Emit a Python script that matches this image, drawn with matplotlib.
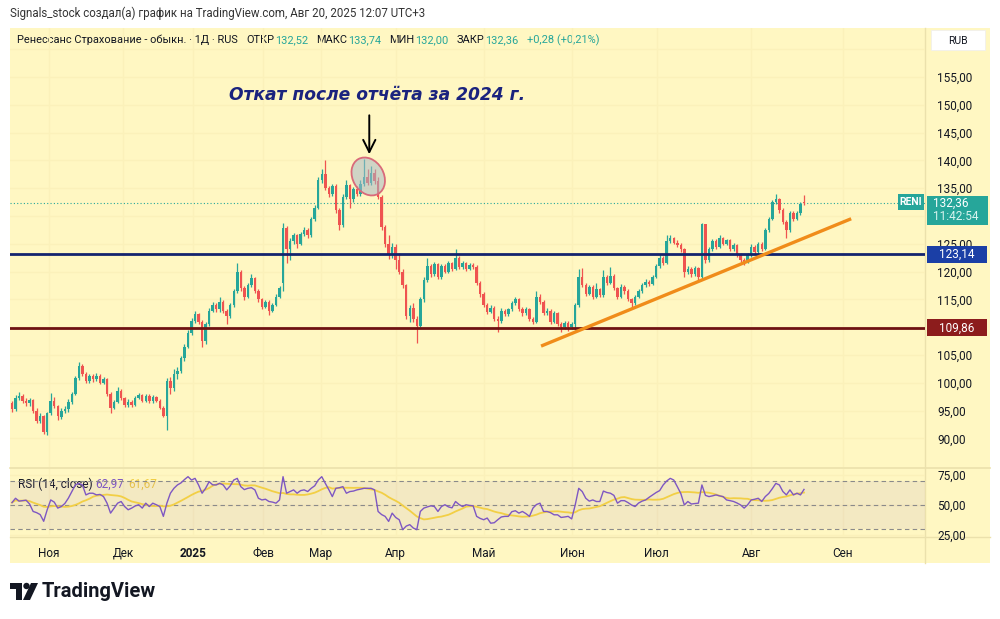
import matplotlib
matplotlib.use('Agg')
import matplotlib.pyplot as plt
from matplotlib.patches import Rectangle, Ellipse, Polygon, Circle
from matplotlib.ticker import FuncFormatter
import matplotlib.transforms as mtransforms
import numpy as np
import pandas as pd

plt.rcParams['font.family'] = ['Roboto', 'DejaVu Sans']

# ---------------- data ----------------
opens = [96.3, 95.2, 97.2, 97.6, 96.8, 96.3, 96.9, 95.0, 93.2, 94.0,
         91.2, 94.5, 96.8, 95.8, 93.8, 95.0, 95.3, 96.5, 98.0, 100.8,
         103.0, 101.5, 100.3, 101.2, 100.6, 101.3, 100.0, 100.7, 98.0, 95.5,
         96.5, 98.5, 97.2, 96.0, 96.5, 96.0, 97.3, 97.8, 96.8, 97.6,
         96.7, 97.5, 96.8, 95.5, 94.0, 100.3, 99.0, 101.5, 102.2, 104.5,
         106.5, 109.0, 111.2, 112.3, 111.0, 107.5, 110.5, 113.0, 114.0, 113.2,
         114.5, 113.0, 112.0, 114.0, 116.5, 120.0, 117.0, 115.5, 117.5, 118.8,
         116.5, 115.0, 113.7, 114.5, 113.0, 114.0, 115.5, 118.0, 127.8, 124.0,
         125.5, 126.5, 125.0, 126.8, 127.5, 126.5, 129.5, 131.5, 136.5, 137.5,
         135.0, 134.0, 135.3, 131.0, 128.3, 133.5, 135.5, 133.0, 134.8, 134.0,
         135.8, 137.0, 136.0, 137.8, 136.2, 133.5, 128.0, 125.0, 123.0, 124.5,
         122.0, 120.0, 117.5, 112.0, 113.5, 111.5, 110.3, 115.0, 118.5, 121.0,
         119.5, 121.3, 119.0, 121.0, 120.0, 121.5, 120.5, 122.5, 120.8, 121.5,
         120.5, 121.2, 120.8, 118.0, 116.0, 114.0, 112.8, 113.5, 111.5, 111.2,
         113.0, 112.3, 113.2, 114.3, 115.0, 113.3, 112.5, 113.2, 111.5, 111.0,
         115.5, 114.5, 112.5, 113.0, 111.0, 112.5, 110.5, 110.0, 110.8, 110.0,
         110.6, 114.0, 119.0, 117.5, 116.0, 117.2, 115.5, 116.8, 115.8, 119.0,
         118.0, 119.2, 117.0, 115.5, 117.3, 116.5, 115.0, 114.3, 115.5, 116.5,
         117.5, 118.2, 117.8, 119.0, 121.0, 122.5, 121.5, 125.5, 126.0, 125.2,
         124.8, 124.0, 120.0, 120.5, 119.5, 120.6, 119.0, 128.5, 122.0, 124.0,
         125.5, 124.5, 126.0, 125.0, 125.6, 124.0, 124.8, 123.0, 122.0, 121.8,
         123.0, 124.5, 123.5, 125.0, 124.0, 127.5, 129.5, 132.5, 133.0, 131.0,
         129.0, 127.5, 130.5, 129.5, 130.5, 132.52]
closes = [95.2, 97.2, 97.6, 96.8, 96.3, 96.9, 95.0, 93.2, 94.0, 91.2,
          94.5, 96.8, 95.8, 94.0, 95.0, 95.3, 96.5, 98.0, 100.8, 103.0,
          101.5, 100.3, 101.2, 100.6, 101.3, 100.0, 100.7, 98.0, 95.5, 96.5,
          98.5, 97.2, 96.0, 96.5, 96.0, 97.3, 97.8, 96.8, 97.6, 96.7,
          97.5, 96.8, 95.5, 94.0, 100.3, 99.0, 101.5, 102.2, 104.5, 106.5,
          109.0, 111.2, 112.3, 111.0, 107.5, 110.5, 113.0, 114.0, 113.2, 114.5,
          113.0, 112.0, 114.0, 116.5, 120.0, 117.0, 115.5, 117.5, 118.8, 116.5,
          115.0, 113.7, 114.5, 113.0, 114.0, 115.5, 117.0, 127.8, 124.0, 125.5,
          126.5, 125.0, 126.8, 127.5, 126.5, 129.5, 131.5, 136.5, 137.5, 135.0,
          134.0, 135.3, 131.0, 128.3, 133.5, 135.5, 133.0, 134.8, 134.0, 135.8,
          137.0, 136.0, 137.8, 136.2, 133.5, 128.0, 125.0, 123.0, 124.5, 122.0,
          120.0, 117.5, 112.0, 113.5, 111.5, 110.3, 115.0, 118.5, 121.0, 119.5,
          121.3, 119.0, 121.0, 120.0, 121.5, 120.5, 122.5, 120.8, 121.5, 120.5,
          121.2, 120.8, 118.0, 116.0, 114.0, 112.8, 113.5, 111.5, 111.2, 113.0,
          112.3, 113.2, 114.3, 115.0, 113.3, 112.5, 113.2, 111.5, 111.0, 115.5,
          114.5, 112.5, 113.0, 111.0, 112.5, 110.5, 110.0, 110.8, 110.0, 110.6,
          114.0, 119.0, 117.5, 116.0, 117.2, 115.5, 116.8, 115.8, 119.0, 118.0,
          119.2, 117.0, 115.5, 117.3, 116.5, 115.0, 114.3, 115.5, 116.5, 117.5,
          118.2, 117.8, 119.0, 121.0, 122.5, 121.5, 125.5, 126.0, 125.2, 124.8,
          124.0, 120.0, 120.5, 119.5, 120.6, 119.0, 128.5, 122.0, 124.0, 125.5,
          124.5, 126.0, 125.0, 125.6, 124.0, 124.8, 123.0, 122.0, 121.8, 123.0,
          124.5, 123.5, 125.0, 124.0, 127.5, 129.5, 132.5, 133.0, 131.0, 129.0,
          127.5, 130.5, 129.5, 130.5, 132.08, 132.36]
highs = [96.8, 97.8, 98.3, 97.9, 97.2, 97.3, 97.1, 95.4, 94.6, 94.3,
         94.8, 98.2, 97.4, 96.0, 95.4, 95.8, 97.0, 98.4, 101.2, 103.7,
         103.4, 101.9, 101.6, 101.6, 101.8, 101.6, 101.0, 100.9, 98.3, 96.9,
         99.3, 98.8, 97.5, 97.0, 96.9, 97.6, 98.2, 98.0, 97.9, 97.9,
         97.8, 97.7, 97.0, 95.8, 100.8, 101.0, 102.5, 102.8, 104.9, 107.0,
         109.5, 111.6, 113.0, 112.6, 111.3, 110.9, 113.4, 114.5, 114.3, 115.5,
         114.8, 113.3, 114.3, 116.9, 121.5, 120.3, 117.4, 117.9, 119.5, 119.0,
         116.8, 115.3, 114.9, 114.8, 114.4, 115.9, 117.4, 128.7, 128.2, 126.0,
         126.9, 126.8, 127.2, 128.0, 127.8, 129.9, 132.0, 137.0, 138.5, 140.0,
         135.4, 135.8, 135.7, 131.4, 133.9, 136.5, 135.8, 135.2, 135.3, 136.5,
         140.2, 138.5, 139.0, 138.5, 137.0, 133.8, 128.4, 126.5, 125.2, 125.0,
         123.3, 120.4, 117.8, 114.0, 114.3, 112.0, 115.4, 119.0, 122.5, 121.4,
         121.7, 121.6, 121.4, 121.4, 121.9, 121.8, 124.0, 122.8, 121.9, 121.8,
         121.5, 121.5, 121.1, 118.3, 116.3, 114.4, 114.0, 113.8, 112.0, 113.4,
         113.3, 113.5, 114.7, 115.5, 115.3, 113.6, 113.6, 113.5, 111.9, 116.5,
         115.9, 114.8, 113.5, 113.3, 112.9, 112.8, 111.0, 111.2, 111.1, 110.9,
         114.4, 120.5, 120.6, 117.9, 117.6, 117.5, 118.0, 117.1, 120.2, 119.4,
         120.8, 119.5, 117.3, 117.7, 117.6, 116.8, 115.3, 115.8, 116.9, 117.9,
         118.6, 118.5, 119.3, 121.4, 122.9, 122.8, 126.5, 126.5, 126.3, 125.6,
         125.2, 124.3, 121.0, 120.9, 121.0, 120.9, 128.8, 128.6, 124.4, 125.9,
         125.8, 126.5, 126.3, 125.9, 125.9, 125.1, 125.0, 123.3, 122.4, 123.4,
         124.9, 124.8, 125.4, 125.3, 127.9, 129.9, 132.9, 134.0, 133.3, 131.4,
         129.3, 130.9, 130.9, 130.9, 132.5, 133.74]
lows = [94.7, 95.0, 96.9, 96.3, 95.8, 95.9, 94.6, 92.8, 92.7, 90.8,
        90.6, 94.2, 95.5, 93.3, 93.5, 94.6, 94.8, 96.2, 97.8, 100.5,
        101.2, 99.9, 100.0, 100.2, 100.3, 99.7, 99.8, 97.6, 94.6, 95.2,
        96.3, 96.9, 95.6, 95.7, 95.6, 95.8, 97.0, 96.5, 96.5, 96.3,
        96.4, 96.5, 95.2, 93.8, 91.5, 98.0, 98.5, 100.6, 101.8, 104.0,
        106.2, 108.6, 110.8, 110.5, 106.4, 107.0, 110.2, 112.7, 112.7, 112.8,
        112.6, 110.5, 111.7, 113.7, 116.2, 116.5, 114.9, 115.2, 117.2, 116.2,
        114.6, 113.3, 113.4, 112.2, 112.7, 113.8, 115.2, 116.5, 121.5, 122.0,
        125.0, 124.2, 124.7, 126.4, 126.0, 126.3, 129.1, 131.2, 136.0, 134.6,
        133.5, 133.6, 130.5, 127.5, 128.0, 133.1, 131.5, 132.6, 133.6, 133.6,
        135.3, 135.5, 135.6, 135.8, 133.1, 127.5, 124.5, 122.3, 122.5, 120.5,
        119.5, 117.0, 111.5, 111.0, 111.0, 107.2, 110.0, 114.6, 118.2, 119.0,
        119.2, 118.6, 118.7, 119.7, 119.8, 120.1, 120.2, 120.4, 120.5, 120.1,
        120.2, 120.4, 117.6, 115.5, 113.6, 112.4, 112.5, 111.1, 109.2, 110.8,
        112.0, 112.0, 112.9, 114.0, 113.0, 112.1, 112.2, 111.2, 110.5, 110.8,
        114.1, 112.2, 112.2, 110.6, 110.7, 110.2, 109.2, 109.7, 109.4, 109.6,
        109.5, 113.7, 117.2, 115.6, 115.7, 115.1, 115.2, 115.4, 115.5, 117.6,
        117.7, 116.7, 115.1, 115.2, 116.0, 114.7, 113.6, 114.0, 115.2, 116.2,
        117.2, 117.4, 117.5, 118.8, 120.7, 121.1, 121.3, 125.1, 124.9, 124.4,
        123.6, 119.0, 119.6, 119.1, 119.2, 118.5, 118.7, 121.6, 121.7, 123.7,
        124.1, 124.2, 124.7, 124.7, 123.7, 123.7, 122.7, 121.7, 121.2, 121.5,
        122.7, 123.2, 123.2, 123.7, 123.8, 127.1, 129.2, 132.1, 130.6, 128.5,
        126.0, 127.2, 129.1, 129.2, 130.2, 132.0]
rsi = [52.0, 55.6, 53.2, 53.6, 54.0, 50.8, 44.6, 43.6, 42.0, 36.4,
       46.0, 54.2, 52.4, 47.4, 48.7, 51.2, 55.6, 61.2, 66.7, 68.1,
       66.7, 58.4, 59.8, 59.8, 58.4, 58.8, 57.0, 51.5, 43.2, 47.4,
       51.5, 52.9, 48.7, 46.0, 47.4, 49.2, 50.2, 47.4, 51.5, 48.7,
       51.5, 50.2, 48.7, 40.5, 51.5, 59.8, 63.9, 66.7, 68.4, 71.2,
       73.6, 70.8, 72.2, 66.7, 59.8, 63.9, 69.4, 66.8, 66.7, 68.1,
       66.7, 62.6, 66.0, 70.8, 72.2, 65.3, 62.8, 63.9, 64.4, 62.6,
       55.6, 54.2, 54.8, 52.9, 52.4, 51.5, 54.2, 73.6, 59.8, 61.2,
       62.6, 59.8, 62.0, 62.6, 61.2, 63.9, 66.0, 70.8, 73.6, 68.1,
       62.8, 57.0, 63.9, 64.4, 65.3, 59.8, 61.2, 61.6, 62.6, 63.2,
       63.9, 63.9, 63.9, 62.6, 44.6, 42.0, 40.5, 36.3, 43.2, 39.6,
       37.7, 29.4, 32.4, 33.6, 30.8, 29.4, 44.6, 47.4, 48.4, 49.3,
       48.7, 44.6, 48.7, 50.2, 48.4, 47.6, 52.9, 50.4, 48.7, 50.2,
       49.6, 49.3, 40.5, 38.8, 37.7, 39.1, 34.8, 35.2, 37.7, 40.0,
       40.5, 40.5, 44.4, 45.2, 43.2, 44.6, 42.8, 40.5, 47.4, 50.4,
       51.5, 44.6, 44.6, 43.6, 41.8, 41.8, 39.6, 40.0, 40.5, 38.4,
       50.0, 63.9, 61.2, 55.6, 53.2, 54.2, 52.9, 52.9, 61.6, 60.4,
       59.8, 58.0, 51.5, 53.6, 53.6, 52.0, 50.0, 48.7, 51.6, 53.2,
       54.2, 56.4, 58.4, 60.4, 62.0, 66.7, 70.0, 72.2, 70.8, 65.3,
       59.6, 50.0, 52.9, 50.8, 51.2, 51.5, 66.7, 58.0, 57.0, 57.6,
       58.4, 57.6, 57.0, 54.2, 53.6, 52.9, 51.6, 50.0, 47.4, 50.2,
       54.2, 54.8, 55.6, 52.9, 57.0, 59.6, 63.6, 68.0, 66.7, 61.2,
       58.4, 62.6, 58.4, 59.8, 58.4, 62.97]

month_labels = ['Ноя', 'Дек', '2025', 'Фев', 'Мар', 'Апр', 'Май', 'Июн', 'Июл', 'Авг', 'Сен']
month_pos = [10.5, 31.5, 51.4, 71.3, 87.8, 109.0, 134.0, 159.1, 183.2, 210.0, 236.0]
price_ticks = [90, 95, 100, 105, 110, 115, 120, 125, 130, 135, 140, 145, 150, 155, 160]
hidden_price_labels = [110, 130, 160]
rsi_ticks = [25, 50, 75]
rsi_bands = [30, 50, 70]
resistance = 123.14
support = 109.86
last_price = 132.36
trend_x = [150.3, 238.4]
trend_y = [106.6, 129.5]
peak_bar, peak_price = 101.2, 137.1
arrow_from, arrow_to = 148.6, 140.6
note_bar, note_price = 103.8, 151.8

# header pieces: (text, colour key, gap in px before it)
header_parts = [('Ренессанс Страхование - обыкн. · 1Д · RUS', 'txt', 0),
                ('ОТКР', 'txt', 8), ('132,52', 'val', 0),
                ('МАКС', 'txt', 8), ('133,74', 'val', 0),
                ('МИН', 'txt', 8), ('132,00', 'val', 0),
                ('ЗАКР', 'txt', 8), ('132,36', 'val', 0),
                ('+0,28 (+0,21%)', 'val', 8)]

# ---------------- figure ----------------
W, H = 1000, 619
BG = '#fff7c2'
GRID = '#fbf1ba'
SEP = '#ebe1ac'
TXT = '#131722'
UP, DN = '#26a69a', '#ef5350'

fig = plt.figure(figsize=(10, 6.19), dpi=100)
fig.patch.set_facecolor('white')

bg = fig.add_axes([0, 0, 1, 1], zorder=0)
bg.set_xlim(0, W); bg.set_ylim(H, 0); bg.axis('off')
bg.add_patch(Rectangle((10, 28), 980, 535, color=BG, lw=0))


def fx(px):
    return px / W


def fy(py):
    return 1 - py / H


ax = fig.add_axes([fx(10), fy(467), fx(925) - fx(10), fy(28) - fy(467)], zorder=2)
rax = fig.add_axes([fx(10), fy(537), fx(925) - fx(10), fy(469) - fy(537)], zorder=2, sharex=ax)

n = min(len(opens), len(closes), len(highs), len(lows))
x = np.arange(n)
o = np.array(opens[:n]); c = np.array(closes[:n])
hi = np.array(highs[:n]); lo = np.array(lows[:n])
cols = [UP if cc >= oo else DN for oo, cc in zip(o, c)]

for a in (ax, rax):
    a.set_facecolor('none')
    for s in a.spines.values():
        s.set_visible(False)
    a.set_xticks(month_pos)
    a.grid(True, color=GRID, lw=1.0)
    a.set_axisbelow(True)

ax.set_xlim((10 - 12) / 3.52, (925 - 12) / 3.52)
ax.set_ylim(84.86, 163.8)

# candles
ax.vlines(x, lo, hi, colors=cols, lw=0.9, zorder=3)
body_h = np.maximum(np.abs(c - o), 0.12)
ax.bar(x, body_h, bottom=np.minimum(o, c), width=0.7, color=cols, lw=0, zorder=4)

# levels
ax.axhline(resistance, color='#13236e', lw=2.0, zorder=5)
ax.axhline(support, color='#6e1212', lw=2.0, zorder=5)
ax.axhline(last_price, color=UP, lw=0.8, ls=(0, (1, 2)), zorder=2)
ax.plot(trend_x, trend_y, color='#f08c1a', lw=2.4, solid_capstyle='butt', zorder=6)

# price axis labels
ax.yaxis.tick_right()
ax.set_yticks(price_ticks)
ax.yaxis.set_major_formatter(FuncFormatter(
    lambda v, p: '' if int(round(v)) in hidden_price_labels else f'{v:.2f}'.replace('.', ',')))
ax.tick_params(axis='y', length=0, pad=9, labelsize=8.5, labelcolor=TXT)
ax.tick_params(axis='x', length=0, labelbottom=False)

bt = mtransforms.blended_transform_factory(ax.transAxes, ax.transData)
pxu = 1 / 915.0
ppu = 1 / 5.56


def level_box(val, color, label):
    ax.add_patch(Rectangle((1 + 2 * pxu, val - 8.5 * ppu), 60 * pxu, 17 * ppu,
                           transform=bt, clip_on=False, color=color, lw=0, zorder=8))
    ax.text(1 + 32 * pxu, val, label, transform=bt, color='white', fontsize=8.5,
            ha='center', va='center', clip_on=False, zorder=9)


level_box(resistance, '#1b3fa6', f'{resistance:.2f}'.replace('.', ','))
level_box(support, '#8c1c1c', f'{support:.2f}'.replace('.', ','))

# last price box
ax.add_patch(Rectangle((1 + 2 * pxu, last_price - 22 * ppu), 61 * pxu, 29 * ppu,
                       transform=bt, clip_on=False, color=UP, lw=0, zorder=8))
ax.text(1 + 8 * pxu, last_price, f'{last_price:.2f}'.replace('.', ','), transform=bt, color='white',
        fontsize=8.5, ha='left', va='center', clip_on=False, zorder=9)
ax.text(1 + 8 * pxu, last_price - 14 * ppu, '11:42:54', transform=bt, color='#d8f3ee',
        fontsize=8.5, ha='left', va='center', clip_on=False, zorder=9)
ax.add_patch(Rectangle((1 - 27 * pxu, last_price - 7 * ppu), 26 * pxu, 16 * ppu,
                       transform=bt, clip_on=False, color=UP, lw=0, zorder=8))
ax.text(1 - 14 * pxu, last_price + 1 * ppu, 'RENI', transform=bt, color='white', fontsize=7.5,
        fontweight='bold', ha='center', va='center', clip_on=False, zorder=9)

# annotation
ax.text(note_bar, note_price, 'Откат после отчёта за 2024 г.', color='#1a237e', fontsize=12.3,
        fontweight='bold', style='italic', ha='center', va='center', zorder=9,
        family=['DejaVu Sans'])
ax.annotate('', xy=(peak_bar + 0.3, arrow_to), xytext=(peak_bar + 0.3, arrow_from),
            arrowprops=dict(arrowstyle='->', lw=1.4, color='black', mutation_scale=22), zorder=9)

# ellipse around the peak (drawn in pixel space on overlay)
fg = fig.add_axes([0, 0, 1, 1], zorder=6)
fg.set_xlim(0, W); fg.set_ylim(H, 0); fg.axis('off'); fg.patch.set_visible(False)
cx, cy = ax.transData.transform((peak_bar, peak_price))
cx, cy = fg.transData.inverted().transform((cx, cy))
fg.add_patch(Ellipse((cx, cy), 31, 40, angle=-30, facecolor='#a9b8c8', alpha=0.55, edgecolor='none'))
fg.add_patch(Ellipse((cx, cy), 31, 40, angle=-30, facecolor='none', edgecolor='#d96a7a', lw=1.3))

# RSI panel
rsi_arr = np.array(rsi[:n])
rsi_ma = pd.Series(rsi_arr).rolling(14, min_periods=1).mean().to_numpy()
rax.set_ylim(23.3, 80)
rax.axhspan(rsi_bands[0], rsi_bands[2], color='#7e57c2', alpha=0.085, lw=0, zorder=1)
for b in rsi_bands:
    rax.axhline(b, color='#8a8a8a', lw=0.8, ls=(0, (4, 3)), zorder=2)
rax.plot(x, rsi_ma, color='#f2cf45', lw=1.3, zorder=3)
rax.plot(x, rsi_arr, color='#7e57c2', lw=1.0, zorder=4)
rax.yaxis.tick_right()
rax.set_yticks(rsi_ticks)
rax.yaxis.set_major_formatter(FuncFormatter(lambda v, p: f'{v:.2f}'.replace('.', ',')))
rax.tick_params(axis='y', length=0, pad=9, labelsize=8.5, labelcolor=TXT)
rax.set_xticklabels(month_labels)
rax.tick_params(axis='x', length=0, pad=7, labelsize=8.5, labelcolor=TXT)
for lbl in rax.get_xticklabels():
    if lbl.get_text() == '2025':
        lbl.set_fontweight('bold')

# separators
bg.plot([10, 990], [468, 468], color=SEP, lw=1.2)
bg.plot([10, 990], [537, 537], color=SEP, lw=1.0)
bg.plot([925, 925], [28, 563], color=SEP, lw=1.0)

# texts
bg.text(10, 13, 'Signals_stock создал(а) график на TradingView.com, Авг 20, 2025 12:07 UTC+3',
        fontsize=8.3, color='#333333', ha='left', va='center')

renderer = fig.canvas.get_renderer()
hcol = {'txt': TXT, 'val': UP}
xx = 17.0
for s, k, gap in header_parts:
    xx += gap
    t = bg.text(xx, 40, s, color=hcol[k], fontsize=7.9, ha='left', va='center')
    ext = t.get_window_extent(renderer=renderer)
    xx = ext.x1 + 0.5

bg.text(18, 484, 'RSI (14, close)', color=TXT, fontsize=8.5, ha='left', va='center')
bg.text(95, 484, '62,97', color='#7e57c2', fontsize=8.5, ha='left', va='center')
bg.text(128, 484, '61,67', color='#f0cc40', fontsize=8.5, ha='left', va='center')

# RUB box
fg.add_patch(Rectangle((931, 30), 54, 20, facecolor='white', edgecolor='#eeeeee', lw=0.5))
fg.text(958, 40.5, 'RUB', fontsize=7.5, color=TXT, ha='center', va='center')

# TradingView logo
fg.add_patch(Polygon([(10, 583), (22, 583), (22, 600), (16, 600), (16, 589), (10, 589)],
                     closed=True, color='#131722', lw=0))
fg.add_patch(Circle((26.5, 586), 3.2, color='#131722', lw=0))
fg.add_patch(Polygon([(23, 600), (31, 583), (38, 583), (30, 600)], closed=True, color='#131722', lw=0))
fg.text(42, 591.5, 'TradingView', fontsize=14.5, fontweight='bold', color='#131722',
        ha='left', va='center')

fig.savefig('out.png', dpi=100, facecolor='white')
